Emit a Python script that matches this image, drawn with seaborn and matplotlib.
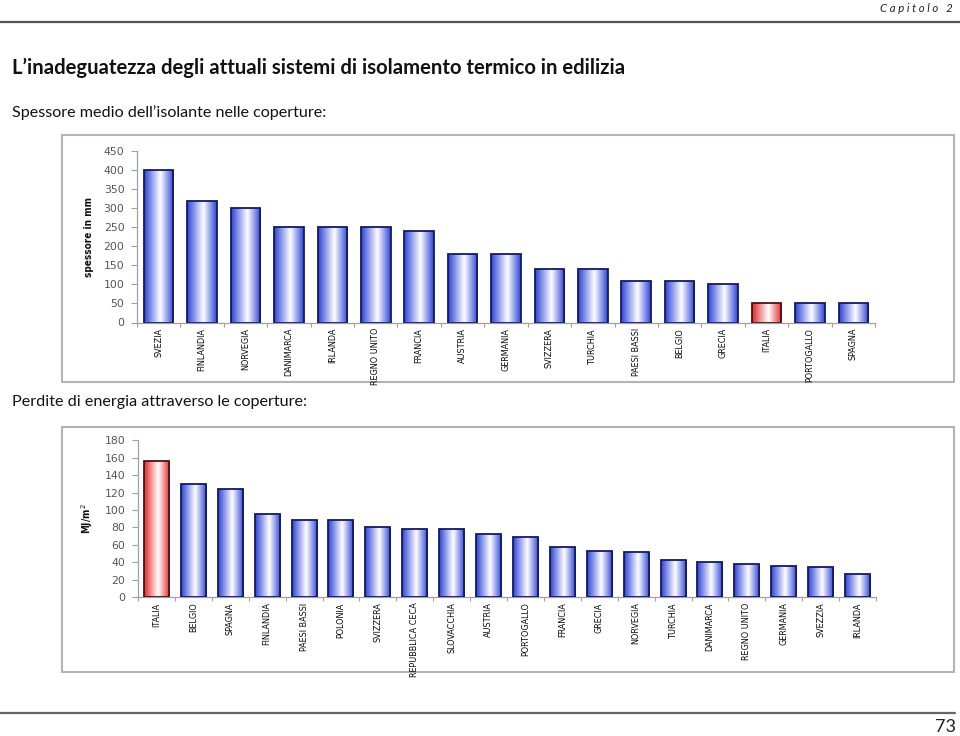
import matplotlib
matplotlib.use("Agg")
import matplotlib.pyplot as plt
import seaborn as sns
import numpy as np
from matplotlib.colors import LinearSegmentedColormap, to_rgb
from matplotlib.ticker import FixedLocator
from matplotlib.patches import Rectangle
from matplotlib.lines import Line2D
from matplotlib.font_manager import FontProperties, findfont

# ---- data ----
top_countries = ["SVEZIA", "FINLANDIA", "NORVEGIA", "DANIMARCA", "IRLANDA",
                 "REGNO UNITO", "FRANCIA", "AUSTRIA", "GERMANIA", "SVIZZERA",
                 "TURCHIA", "PAESI BASSI", "BELGIO", "GRECIA", "ITALIA",
                 "PORTOGALLO", "SPAGNA"]
top_values = [400, 320, 300, 250, 250, 250, 240, 180, 180, 140, 140, 110,
              108, 100, 50, 50, 50]
top_yticks = [0, 50, 100, 150, 200, 250, 300, 350, 400, 450]

bot_countries = ["ITALIA", "BELGIO", "SPAGNA", "FINLANDIA", "PAESI BASSI",
                 "POLONIA", "SVIZZERA", "REPUBBLICA CECA", "SLOVACCHIA",
                 "AUSTRIA", "PORTOGALLO", "FRANCIA", "GRECIA", "NORVEGIA",
                 "TURCHIA", "DANIMARCA", "REGNO UNITO", "GERMANIA", "SVEZZIA",
                 "IRLANDA"]
bot_values = [156, 130, 124, 95, 88, 88, 81, 78, 78, 73, 69, 58, 53, 52, 43,
              40, 38, 36, 35, 27]
bot_yticks = [0, 20, 40, 60, 80, 100, 120, 140, 160, 180]

highlight = "ITALIA"
BLUE = "#2c42d8"
RED = "#e0262a"

sns.set_theme(style="white")
plt.rcParams["font.family"] = ["Lato", "DejaVu Sans"]

W, H = 960, 736
fig = plt.figure(figsize=(W / 100, H / 100), dpi=100)


def fx(x):
    return x / W


def fy(y):
    return 1 - y / H


def axes_px(x0, y0, x1, y1):
    return fig.add_axes([fx(x0), fy(y1), fx(x1) - fx(x0), (y1 - y0) / H])


def narrow_fp(size, weight="normal"):
    for fam in ["Liberation Sans Narrow", "Arial Narrow"]:
        fp = FontProperties(family=fam, size=size, weight=weight)
        try:
            path = findfont(fp, fallback_to_default=False)
            if "Narrow" in path:
                return fp
        except Exception:
            pass
    return FontProperties(family="DejaVu Sans", stretch="condensed",
                          size=size, weight=weight)


def gradient_bars(ax, edgecolors):
    xlim, ylim = ax.get_xlim(), ax.get_ylim()
    for p in list(ax.patches):
        fc = to_rgb(p.get_facecolor())
        cmap = LinearSegmentedColormap.from_list(
            "g", [(0.0, fc), (0.55, (1, 1, 1)), (1.0, fc)])
        grad = np.linspace(0, 1, 256).reshape(1, -1)
        x0, y0 = p.get_x(), p.get_y()
        w, h = p.get_width(), p.get_height()
        im = ax.imshow(grad, cmap=cmap, aspect="auto",
                       extent=[x0, x0 + w, y0, y0 + h], zorder=2,
                       interpolation="bicubic")
        im.set_clip_path(p)
        p.set_facecolor("none")
        p.set_edgecolor(edgecolors[fc == to_rgb(RED)])
        p.set_linewidth(1.3)
        p.set_zorder(3)
    ax.set_xlim(xlim)
    ax.set_ylim(ylim)


def draw_chart(ax, cats, vals, yticks, ylabel, ymax):
    pal = {c: (RED if c == highlight else BLUE) for c in cats}
    sns.barplot(x=cats, y=vals, hue=cats, palette=pal, legend=False,
                width=0.68, ax=ax, saturation=1)
    ax.set_xlim(-0.5, len(cats) - 0.5)
    ax.set_ylim(0, ymax)
    gradient_bars(ax, {False: "#141a5c", True: "#4a1414"})
    for s in ["top", "right"]:
        ax.spines[s].set_visible(False)
    for s in ["left", "bottom"]:
        ax.spines[s].set_color("#a0a0a0")
        ax.spines[s].set_linewidth(0.9)
    ax.set_yticks(yticks)
    ax.set_yticklabels([str(t) for t in yticks], fontsize=7.8,
                       color="#555555", family="DejaVu Sans")
    ax.tick_params(axis="y", direction="out", length=4, width=0.8,
                   color="#a0a0a0", pad=5, left=True)
    ax.set_xticks(range(len(cats)))
    ax.set_xticklabels(cats, rotation=90, fontproperties=narrow_fp(6.5),
                       color="#0a0a0a", va="top", ha="center")
    ax.tick_params(axis="x", which="major", length=0, pad=4)
    ax.xaxis.set_minor_locator(FixedLocator(np.arange(-0.5, len(cats), 1.0)))
    ax.tick_params(axis="x", which="minor", direction="out", length=3,
                   width=0.8, color="#a0a0a0", bottom=True)
    ax.set_xlabel("")
    ax.set_ylabel(ylabel, fontproperties=narrow_fp(7.2, "bold"),
                  color="#111111", labelpad=7)
    ax.set_facecolor("none")
    ax.grid(False)


ax1 = axes_px(137, 151, 875, 322.5)
draw_chart(ax1, top_countries, top_values, top_yticks, "spessore in mm", 450)

ax2 = axes_px(138, 440.5, 876, 597)
draw_chart(ax2, bot_countries, bot_values, bot_yticks, "MJ/m$^2$", 180)

# ---- page decorations ----
fig.add_artist(Rectangle((fx(62), fy(382)), fx(954) - fx(62), (382 - 135) / H,
                         transform=fig.transFigure, fill=False,
                         edgecolor="#b4b4b4", lw=1.5, zorder=0))
fig.add_artist(Rectangle((fx(62), fy(672)), fx(954) - fx(62), (672 - 427) / H,
                         transform=fig.transFigure, fill=False,
                         edgecolor="#b4b4b4", lw=1.5, zorder=0))
fig.add_artist(Line2D([0, 1], [fy(21.5), fy(21.5)], transform=fig.transFigure,
                      color="#555555", lw=1.6))
fig.add_artist(Line2D([0, fx(955)], [fy(713), fy(713)],
                      transform=fig.transFigure, color="#666666", lw=1.6))

fig.text(fx(953), fy(8), "C a p i t o l o   2", ha="right", va="center",
         fontsize=8.2, style="italic", color="#222222")
fig.text(fx(12), fy(68), "L’inadeguatezza degli attuali sistemi di isolamento termico in edilizia",
         ha="left", va="center", fontsize=14.6, fontweight="bold", color="#111111")
fig.text(fx(12), fy(113), "Spessore medio dell’isolante nelle coperture:",
         ha="left", va="center", fontsize=11.6, color="#111111")
fig.text(fx(12), fy(402), "Perdite di energia attraverso le coperture:",
         ha="left", va="center", fontsize=11.6, color="#111111")
fig.text(fx(956), fy(727), "73", ha="right", va="center", fontsize=13,
         color="#222222")

fig.savefig("out.png", dpi=100)
